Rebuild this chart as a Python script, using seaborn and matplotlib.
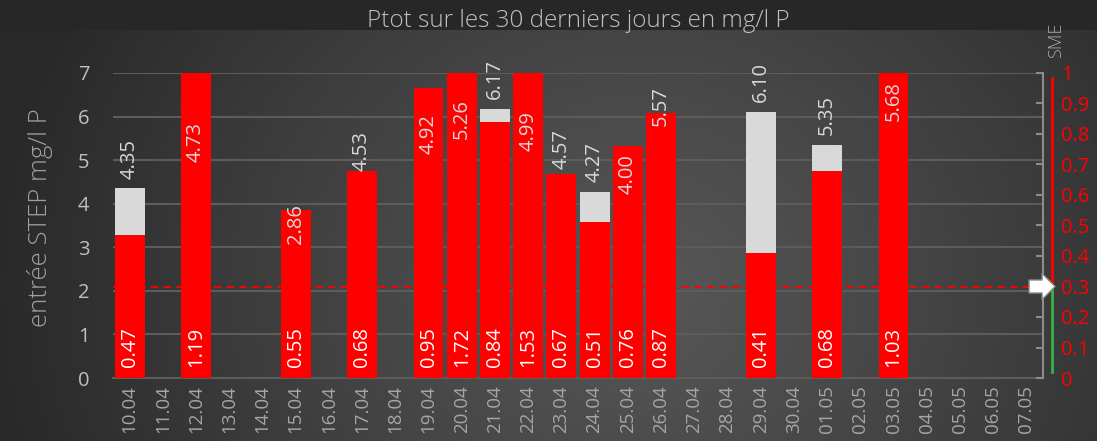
import numpy as np
import pandas as pd
import matplotlib
matplotlib.use("Agg")
import matplotlib.pyplot as plt
import matplotlib.transforms as mtransforms
from matplotlib import font_manager
import seaborn as sns

# ---------------- data ----------------
dates = ["10.04", "11.04", "12.04", "13.04", "14.04", "15.04", "16.04", "17.04",
         "18.04", "19.04", "20.04", "21.04", "22.04", "23.04", "24.04", "25.04",
         "26.04", "27.04", "28.04", "29.04", "30.04", "01.05", "02.05", "03.05",
         "04.05", "05.05", "06.05", "07.05"]

entree_dates = ["10.04", "12.04", "15.04", "17.04", "19.04", "20.04", "21.04", "22.04",
                "23.04", "24.04", "25.04", "26.04", "29.04", "01.05", "03.05"]
entree_values = [4.35, 4.73, 2.86, 4.53, 4.92, 5.26, 6.17, 4.99,
                 4.57, 4.27, 4.00, 5.57, 6.10, 5.35, 5.68]

sme_dates = entree_dates
sme_values = [0.47, 1.19, 0.55, 0.68, 0.95, 1.72, 0.84, 1.53,
              0.67, 0.51, 0.76, 0.87, 0.41, 0.68, 1.03]

sme_threshold = 0.3
left_ticks = [0, 1, 2, 3, 4, 5, 6, 7]
right_ticks = [0, 0.1, 0.2, 0.3, 0.4, 0.5, 0.6, 0.7, 0.8, 0.9, 1]
right_ticklabels = ["0", "0.1", "0.2", "0.3", "0.4", "0.5", "0.6", "0.7", "0.8", "0.9", "1"]

title = "Ptot sur les 30 derniers jours en mg/l P"
left_label = "entrée STEP mg/l P"
right_label = "SME"

# ---------------- fonts ----------------
base_family = "Open Sans"
light_file = None
for fam in ["Open Sans", "Lato", "Noto Sans", "Roboto", "Inter"]:
    for f in font_manager.fontManager.ttflist:
        fn = f.fname.lower()
        if (f.name == fam and f.style == "normal" and f.stretch == "normal"
                and isinstance(f.weight, int) and 200 <= f.weight <= 300
                and "condensed" not in fn and "narrow" not in fn):
            light_file = f.fname
            break
    if light_file is not None:
        break


def light(size):
    if light_file is not None:
        return font_manager.FontProperties(fname=light_file, size=size)
    return font_manager.FontProperties(family=[base_family, "DejaVu Sans"], size=size)


plt.rcParams["font.family"] = [base_family, "DejaVu Sans"]
W, H = 1097, 441
fig = plt.figure(figsize=(W / 100, H / 100), dpi=100)

# background gradient
bg = fig.add_axes([0, 0, 1, 1], zorder=-10)
yy, xx = np.mgrid[0:H, 0:W]
cx, cy = 640, 290
r = np.sqrt(((xx - cx) / 1.0) ** 2 + ((yy - cy) / 0.9) ** 2)
c_center, c_edge = 0x57 / 255, 0x29 / 255
val = c_center - (c_center - c_edge) * np.clip(r / 650, 0, 1) ** 1.1
val[yy < 30] = 0x27 / 255
img = np.dstack([val, val, val])
bg.imshow(img, aspect="auto", extent=[0, 1, 0, 1], origin="upper")
bg.set_axis_off()

left, right, bottom, top = 113 / W, 1043 / W, 1 - 378 / H, 1 - 73 / H
ax = fig.add_axes([left, bottom, right - left, top - bottom])
ax.set_facecolor("none")

df_e = pd.DataFrame({"date": entree_dates, "val": entree_values})
df_s = pd.DataFrame({"date": sme_dates, "val": sme_values})

sns.barplot(data=df_e, x="date", y="val", order=dates, color="#d9d9d9",
            saturation=1, width=0.9, ax=ax, errorbar=None)
ax.set_xlim(-0.5, len(dates) - 0.5)
ax.set_ylim(0, 7)
ax.set_yticks(left_ticks)
ax.grid(axis="y", color="#5c5c5c", lw=1.5, zorder=0)
ax.set_axisbelow(True)
for s in ["left", "right", "top"]:
    ax.spines[s].set_visible(False)
ax.spines["bottom"].set_color("#5c5c5c")
ax.spines["bottom"].set_linewidth(1.5)
ax.tick_params(axis="y", length=0, labelsize=14.5, labelcolor="#bfbfbf", pad=17)
ax.tick_params(axis="x", length=0, labelsize=13.5, labelcolor="#a6a6a6",
               rotation=90, pad=5)
ax.set_xlabel("")
ax.set_ylabel("")
fig.text(40 / W, 1 - 218 / H, left_label, rotation=90, ha="center", va="center",
         color="#a0a0a0", fontproperties=light(18.5))

ax2 = ax.twinx()
ax2.set_facecolor("none")
sns.barplot(data=df_s, x="date", y="val", order=dates, color="#ff0000",
            saturation=1, width=0.9, ax=ax2, errorbar=None)
for p in ax2.patches:
    p.set_zorder(3)
ax2.set_xlim(-0.5, len(dates) - 0.5)
ax2.set_ylim(0, 1)
ax2.set_yticks(right_ticks)
ax2.set_yticklabels(right_ticklabels)
ax2.set_ylabel("")
ax2.set_xlabel("")
for s in ["left", "top", "bottom"]:
    ax2.spines[s].set_visible(False)
ax2.spines["right"].set_color("#8c8c8c")
ax2.spines["right"].set_linewidth(1.5)
ax2.tick_params(axis="y", direction="in", length=5, width=1.5, color="#8c8c8c",
                labelsize=14.5, labelcolor="#ff0000", pad=13)

# threshold line
ax2.axhline(sme_threshold, color="#ff0000", ls=(0, (4, 3)), lw=1.3, zorder=2)

# red / green line next to the right axis
blend = mtransforms.blended_transform_factory(ax2.transAxes, ax2.transData)
ax2.plot([1.0097, 1.0097], [sme_threshold, 0.985], transform=blend, color="#ff0000",
         lw=2, clip_on=False, zorder=5)
ax2.plot([1.0097, 1.0097], [0.02, sme_threshold - 0.01], transform=blend,
         color="#3cb043", lw=2, clip_on=False, zorder=5)
ax2.annotate("", xy=(1.013, sme_threshold), xycoords=blend,
             xytext=(0.985, sme_threshold), textcoords=blend,
             arrowprops=dict(arrowstyle="simple,head_length=0.55,head_width=1.1,tail_width=0.55",
                             fc="white", ec="#8c8c8c", lw=1, shrinkA=0, shrinkB=0,
                             mutation_scale=17),
             annotation_clip=False, zorder=6)

# value labels
for d, v in zip(entree_dates, entree_values):
    i = dates.index(d)
    ax2.annotate(f"{v:.2f}", xy=(i, v), xycoords=ax.transData, xytext=(0, 7),
                 textcoords="offset points", rotation=90, ha="center", va="bottom",
                 color="#d9d9d9", fontsize=14.5, annotation_clip=False, zorder=7)
for d, v in zip(sme_dates, sme_values):
    i = dates.index(d)
    ax2.annotate(f"{v:.2f}", xy=(i, 0), xycoords=ax2.transData, xytext=(0, 8),
                 textcoords="offset points", rotation=90, ha="center", va="bottom",
                 color="white", fontsize=14.5, annotation_clip=False, zorder=7)

fig.text((113 + 1043) / 2 / W, 1 - 21 / H, title, ha="center", va="center",
         color="#bfbfbf", fontproperties=light(17.5))
fig.text(1056 / W, 1 - 40 / H, right_label, rotation=90, ha="center", va="center",
         color="#a6a6a6", fontproperties=light(13))

fig.savefig("out.png", dpi=100)
